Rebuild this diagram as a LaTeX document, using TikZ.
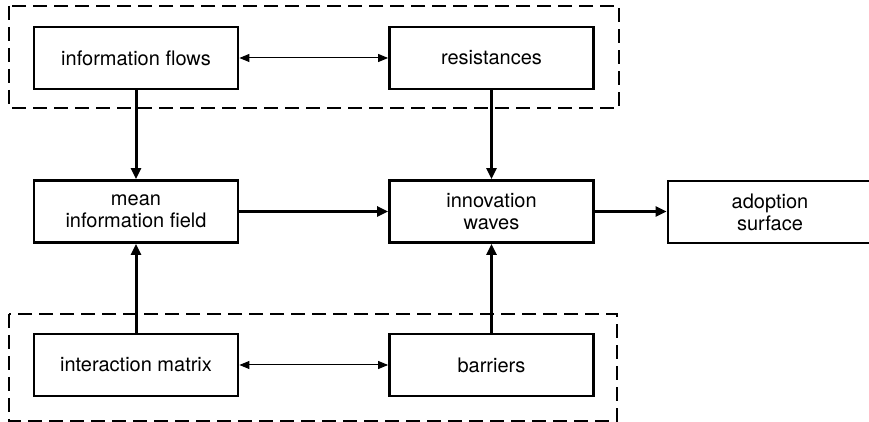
\documentclass[tikz,border=0pt]{standalone}
\usepackage{fontspec}
\setmainfont{TeX Gyre Heros}
\usetikzlibrary{arrows.meta}
\begin{document}
\begin{tikzpicture}[x=1pt,y=1pt,
  box/.style={draw, line width=2.8pt, minimum width=204pt, minimum height=62pt, inner sep=0pt, align=center, font=\fontsize{20}{22}\selectfont},
  group/.style={draw, line width=1.3pt, dash pattern=on 14pt off 7pt},
  thick arrow/.style={line width=3pt, -{Triangle[length=11pt,width=10pt]}},
  thin arrow/.style={line width=1pt, {Triangle[length=10pt,width=8pt]}-{Triangle[length=10pt,width=8pt]}},
  mid arrow/.style={line width=2.2pt, -{Triangle[length=11pt,width=10pt]}}]
\useasboundingbox (0,0) rectangle (869,422);
\fill[white] (0,0) rectangle (869,422);
% groups
\draw[group] (9,416) rectangle (619,314);
\draw[group] (9,108) rectangle (617,1);
% boxes
\node[box] (flows) at (136,364) {information flows};
\node[box] (resist) at (491.5,364) {resistances};
\node[box] (mean) at (136,210.5) {mean\\information field};
\node[box] (waves) at (491.5,210.5) {innovation\\waves};
\node[box, minimum width=220pt] (adopt) at (778,210) {adoption\hspace*{16pt}\\surface\hspace*{16pt}};
\node[box] (matrix) at (136,57) {interaction matrix};
\node[box] (barriers) at (491.5,57) {barriers};
% connectors
\draw[thin arrow] (flows) -- (resist);
\draw[thin arrow] (matrix) -- (barriers);
\draw[thick arrow] (flows) -- (mean);
\draw[thick arrow] (resist) -- (waves);
\draw[thick arrow] (matrix) -- (mean);
\draw[thick arrow] (barriers) -- (waves);
\draw[thick arrow] (mean) -- (waves);
\draw[mid arrow] (waves.east) -- (waves.east -| adopt.west);
\end{tikzpicture}
\end{document}
